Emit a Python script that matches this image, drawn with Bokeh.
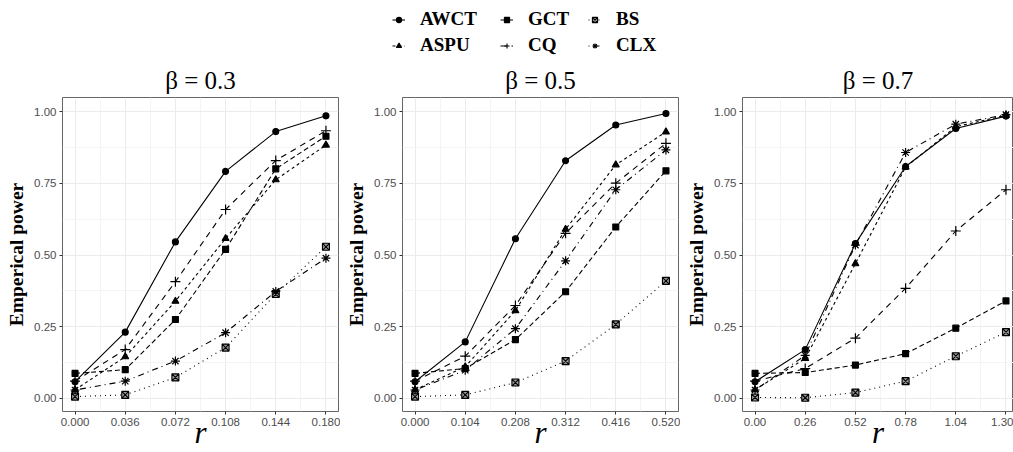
from bokeh.plotting import figure
from bokeh.layouts import column, row
from bokeh.models import FixedTicker, Legend, LegendItem, Range1d, ColumnDataSource, Title
from bokeh.embed import file_html
from bokeh.resources import INLINE

# ---------------- data ----------------
methods = ["AWCT", "ASPU", "GCT", "CQ", "BS", "CLX"]

r_b03 = [0.000, 0.036, 0.072, 0.108, 0.144, 0.180]
r_b05 = [0.000, 0.104, 0.208, 0.312, 0.416, 0.520]
r_b07 = [0.00, 0.26, 0.52, 0.78, 1.04, 1.30]

r_labels_b03 = ["0.000", "0.036", "0.072", "0.108", "0.144", "0.180"]
r_labels_b05 = ["0.000", "0.104", "0.208", "0.312", "0.416", "0.520"]
r_labels_b07 = ["0.00", "0.26", "0.52", "0.78", "1.04", "1.30"]

# beta = 0.3
awct_b03 = [0.058, 0.231, 0.546, 0.792, 0.931, 0.986]
aspu_b03 = [0.030, 0.145, 0.339, 0.558, 0.763, 0.884]
gct_b03 = [0.087, 0.100, 0.275, 0.520, 0.801, 0.915]
cq_b03 = [0.060, 0.170, 0.407, 0.659, 0.830, 0.934]
bs_b03 = [0.006, 0.012, 0.073, 0.177, 0.364, 0.529]
clx_b03 = [0.029, 0.060, 0.130, 0.229, 0.373, 0.489]

# beta = 0.5
awct_b05 = [0.058, 0.197, 0.557, 0.829, 0.954, 0.994]
aspu_b05 = [0.030, 0.110, 0.306, 0.590, 0.815, 0.930]
gct_b05 = [0.087, 0.104, 0.205, 0.372, 0.598, 0.794]
cq_b05 = [0.060, 0.147, 0.324, 0.576, 0.751, 0.890]
bs_b05 = [0.006, 0.012, 0.055, 0.130, 0.258, 0.410]
clx_b05 = [0.029, 0.098, 0.243, 0.480, 0.728, 0.867]

# beta = 0.7
awct_b07 = [0.058, 0.170, 0.540, 0.809, 0.942, 0.985]
aspu_b07 = [0.030, 0.139, 0.470, 0.807, 0.948, 0.988]
gct_b07 = [0.087, 0.090, 0.116, 0.156, 0.245, 0.340]
cq_b07 = [0.060, 0.104, 0.210, 0.384, 0.584, 0.728]
bs_b07 = [0.003, 0.002, 0.020, 0.060, 0.147, 0.231]
clx_b07 = [0.029, 0.150, 0.535, 0.858, 0.957, 0.990]

y_ticks = [0.0, 0.25, 0.5, 0.75, 1.0]
y_labels = ["0.00", "0.25", "0.50", "0.75", "1.00"]
titles = ["β = 0.3", "β = 0.5", "β = 0.7"]

# ---------------- styles ----------------
dash = {"AWCT": "solid", "ASPU": "3 3", "GCT": "5 3", "CQ": "6 5", "BS": "1 4", "CLX": "1 4 6 4"}
marker = {"AWCT": "circle", "ASPU": "triangle", "GCT": "square", "CQ": "cross",
          "BS": "square_x", "CLX": "asterisk"}
msize = {"AWCT": 6, "ASPU": 7, "GCT": 6, "CQ": 10, "BS": 7, "CLX": 9}
mfill = {"AWCT": "black", "ASPU": "black", "GCT": "black", "CQ": None, "BS": "#999999", "CLX": None}

SERIF = "Liberation Serif"
SANS = "Liberation Sans"
Y0, Y1 = -0.046, 1.05


def make_panel(xs, xlabels, series, title, width, left, x0=None, x1=None, right=2):
    step = xs[1] - xs[0]
    span = xs[-1] - xs[0]
    x0 = xs[0] - 0.05 * span if x0 is None else x0
    x1 = xs[-1] + 0.05 * span if x1 is None else x1
    p = figure(width=width, height=395, output_backend="svg", toolbar_location=None,
               x_range=Range1d(x0, x1), y_range=Range1d(Y0, Y1),
               min_border_left=left, min_border_right=right, min_border_top=40,
               min_border_bottom=39)
    p.title = Title(text=title, align="center", text_font=SERIF, text_font_size="25px",
                    text_font_style="normal", text_color="black", offset=0, standoff=8)
    minor_x = [xs[i] + step / 2 for i in range(len(xs) - 1)]
    p.xaxis.ticker = FixedTicker(ticks=xs, minor_ticks=minor_x)
    p.xaxis.major_label_overrides = {x: l for x, l in zip(xs, xlabels)}
    p.yaxis.ticker = FixedTicker(ticks=y_ticks, minor_ticks=[0.125, 0.375, 0.625, 0.875])
    p.yaxis.major_label_overrides = {y: l for y, l in zip(y_ticks, y_labels)}
    for ax in (p.xaxis[0], p.yaxis[0]):
        ax.major_label_text_font = SANS
        ax.major_label_text_font_size = "11.5px"
        ax.major_label_text_color = "#4D4D4D"
        ax.major_tick_line_color = "#333333"
        ax.major_tick_in = 0
        ax.major_tick_out = 3
        ax.minor_tick_line_color = None
        ax.axis_line_color = None
        ax.major_label_standoff = 2
    p.yaxis.axis_label = "Emperical power"
    p.yaxis.axis_label_text_font = SERIF
    p.yaxis.axis_label_text_font_style = "bold"
    p.yaxis.axis_label_text_font_size = "19.5px"
    p.yaxis.axis_label_text_color = "black"
    p.yaxis.axis_label_standoff = 4
    p.xaxis.axis_label = "r"
    p.xaxis.axis_label_text_font = SERIF
    p.xaxis.axis_label_text_font_style = "italic"
    p.xaxis.axis_label_text_font_size = "31px"
    p.xaxis.axis_label_text_color = "black"
    p.xaxis.axis_label_standoff = -14
    p.grid.grid_line_color = "#EBEBEB"
    p.grid.grid_line_width = 1
    p.grid.minor_grid_line_color = "#F4F4F4"
    p.outline_line_color = "#666666"
    p.outline_line_width = 1
    p.background_fill_color = "white"
    p.border_fill_color = "white"
    for m in methods:
        src = ColumnDataSource(dict(x=xs, y=series[m]))
        p.line("x", "y", source=src, line_color="black", line_width=1.1, line_dash=dash[m])
        p.scatter("x", "y", source=src, marker=marker[m], size=msize[m], line_color="black",
                  fill_color=mfill[m], line_width=1.1 if m not in ("CQ", "CLX") else 1.2)
    return p


s03 = dict(AWCT=awct_b03, ASPU=aspu_b03, GCT=gct_b03, CQ=cq_b03, BS=bs_b03, CLX=clx_b03)
s05 = dict(AWCT=awct_b05, ASPU=aspu_b05, GCT=gct_b05, CQ=cq_b05, BS=bs_b05, CLX=clx_b05)
s07 = dict(AWCT=awct_b07, ASPU=aspu_b07, GCT=gct_b07, CQ=cq_b07, BS=bs_b07, CLX=clx_b07)

p1 = make_panel(r_b03, r_labels_b03, s03, titles[0], 340, 62)
p2 = make_panel(r_b05, r_labels_b05, s05, titles[1], 340, 62)
p3 = make_panel(r_b07, r_labels_b07, s07, titles[2], 333, 62, x0=-0.065, x1=1.339, right=0)

# ---------------- legend strip ----------------
lg = figure(width=1013, height=57, output_backend="svg", toolbar_location=None,
            x_range=Range1d(0, 1), y_range=Range1d(0, 1), min_border=0)
lg.axis.visible = False
lg.grid.visible = False
lg.outline_line_color = None
items = {}
for m in methods:
    src = ColumnDataSource(dict(x=[-10.0], y=[-10.0]))
    rl = lg.line("x", "y", source=src, line_color="black", line_width=1.1, line_dash=dash[m])
    rs = lg.scatter("x", "y", source=src, marker=marker[m], size=msize[m] - 1, line_color="black",
                    fill_color=mfill[m], line_width=1.1)
    items[m] = LegendItem(label=m, renderers=[rl, rs])

columns = [("AWCT", "ASPU", 392), ("GCT", "CQ", 500), ("BS", "CLX", 588)]
for a, b, xpos in columns:
    leg = Legend(items=[items[a], items[b]], orientation="vertical", location=(xpos, 1),
                 label_text_font=SERIF, label_text_font_style="bold", label_text_font_size="19px",
                 label_text_color="black", glyph_width=13, glyph_height=21, spacing=4,
                 label_standoff=15, padding=0, margin=0, border_line_color=None,
                 background_fill_alpha=0, label_height=21)
    lg.add_layout(leg, "center")

layout = column(lg, row(p1, p2, p3))
open("out.html", "w").write(file_html(layout, INLINE))
